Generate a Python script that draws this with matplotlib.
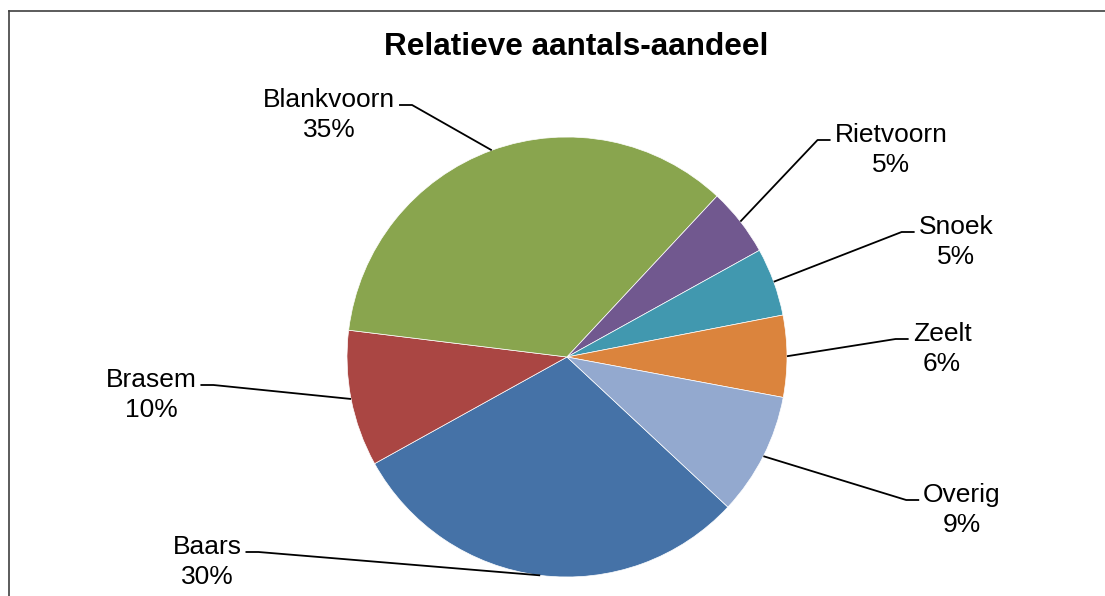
import matplotlib
matplotlib.use("Agg")
import matplotlib.pyplot as plt
from matplotlib.lines import Line2D
import numpy as np

# Relative share (%) per species, in drawing order (clockwise)
species = ["Baars", "Brasem", "Blankvoorn", "Rietvoorn", "Snoek", "Zeelt", "Overig"]
share = [30, 10, 35, 5, 5, 6, 9]
colors = ["#4572A7", "#AA4643", "#89A54E", "#71588F", "#4198AF", "#DB843D", "#93A9CF"]
title = "Relatieve aantals-aandeel"

W, H, DPI = 1105, 596, 100
fig = plt.figure(figsize=(W / DPI, H / DPI), dpi=DPI)
fig.patch.set_facecolor("white")
ax = fig.add_axes([0, 0, 1, 1])

# work in pixel units, y measured upward
cx, cy, R = 567, H - 357, 220
wedges, _ = ax.pie(share, colors=colors, startangle=-43, counterclock=False,
                   center=(cx, cy), radius=R,
                   wedgeprops=dict(edgecolor="white", linewidth=0.5))
ax.set_xlim(0, W)
ax.set_ylim(0, H)
ax.set_aspect("auto")
ax.axis("off")

font = "Liberation Sans"
fs = 19
gap = 30

# label layout: (x centre of text, baseline of first line from top, side)
layout = {
    "Blankvoorn": (329, 107, "left"),
    "Rietvoorn": (891, 142, "right"),
    "Snoek": (956, 234, "right"),
    "Zeelt": (942, 341, "right"),
    "Overig": (962, 502, "right"),
    "Brasem": (151, 387, "left"),
    "Baars": (207, 554, "left"),
}

fig.canvas.draw()
renderer = fig.canvas.get_renderer()

for w, name, val in zip(wedges, species, share):
    tx, by, side = layout[name]
    t1 = ax.text(tx, H - by, name, ha="center", va="baseline",
                 fontsize=fs, family=font, color="black")
    ax.text(tx, H - by - gap, f"{val}%", ha="center", va="baseline",
            fontsize=fs, family=font, color="black")
    bb = t1.get_window_extent(renderer)
    ly = H - by + 2
    if side == "right":
        x_near, x_far = bb.x0 - 4, bb.x0 - 17
    else:
        x_near, x_far = bb.x1 + 4, bb.x1 + 17
    mid = np.deg2rad((w.theta1 + w.theta2) / 2)
    ex, ey = cx + R * np.cos(mid), cy + R * np.sin(mid)
    ax.add_line(Line2D([x_near, x_far, ex], [ly, ly, ey],
                       color="black", linewidth=1.3, solid_capstyle="butt"))

fig.text(576 / W, 1 - 55 / H, title, ha="center", va="baseline",
         fontsize=22.7, fontweight="bold", family=font, color="black")

# chart frame (top and left edges)
fig.add_artist(Line2D([9 / W, 9 / W], [0, 1 - 11 / H], transform=fig.transFigure,
                      color="#404040", linewidth=1.2))
fig.add_artist(Line2D([9 / W, 1], [1 - 11 / H, 1 - 11 / H], transform=fig.transFigure,
                      color="#404040", linewidth=1.2))

fig.savefig("out.png", dpi=DPI)
